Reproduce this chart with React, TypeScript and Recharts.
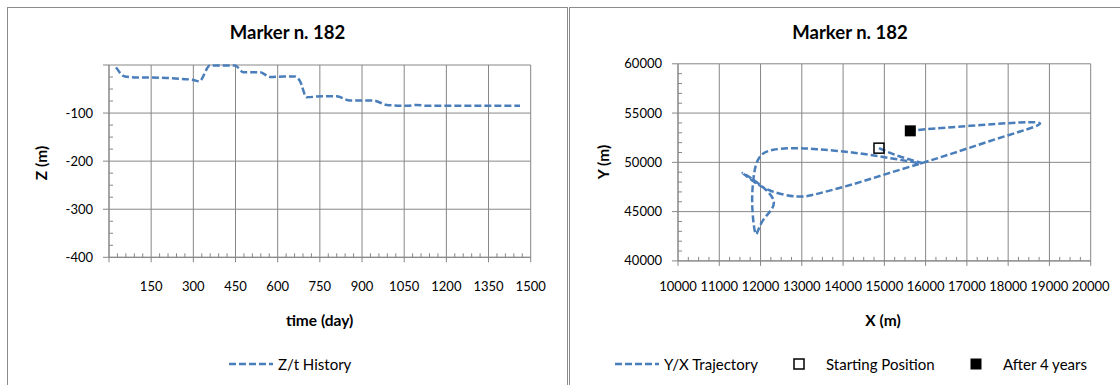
import React from 'react'
import { LineChart, ComposedChart, Line, Scatter, XAxis, YAxis, CartesianGrid } from 'recharts'

// Z/t history
const days = [25, 57, 100, 146, 205, 260, 300, 321, 359, 400, 448, 478, 537, 573, 620, 662, 679, 703, 760, 810, 857, 900, 940, 988, 1059, 1094, 1130, 1200, 1300, 1400, 1462]
const depth = [-5, -24, -26, -26, -27, -29, -31, -34, -1, -1, -1, -15, -15, -25, -24, -24, -33, -67, -65, -65, -74, -74, -74, -83, -85, -83, -85, -85, -85, -85, -85]
const dayTicks = [0, 150, 300, 450, 600, 750, 900, 1050, 1200, 1350, 1500]
const depthTicks = [-400, -300, -200, -100, 0]

// Y/X trajectory
const trajX = [14870, 15379, 15905, 15379, 14652, 14006, 13360, 12794, 12309, 12028, 11890, 11825, 11800, 11882, 12066, 12293, 11620, 11775, 12229, 12875, 13440, 14248, 15056, 15905, 16671, 17479, 18287, 18771, 18287, 17075, 16025, 15629]
const trajY = [51440, 50593, 49919, 50256, 50763, 51100, 51337, 51440, 51270, 50763, 49748, 48226, 45516, 42745, 44166, 46368, 48800, 48226, 47140, 46532, 46875, 47790, 48835, 49919, 50936, 52053, 53128, 53910, 54042, 53707, 53370, 53196]
const startPos = { x: 14870, y: 51440 }
const endPos = { x: 15629, y: 53196 }
const eastTicks = [10000, 11000, 12000, 13000, 14000, 15000, 16000, 17000, 18000, 19000, 20000]
const northTicks = [40000, 45000, 50000, 55000, 60000]

const GRID = '#878787'
const BLUE = '#4a7ebb'
const FONT = 'Lato, "Open Sans", sans-serif'
const TICK_SIZE = 13

const zData = days.map((d, i) => ({ day: d, z: depth[i] }))
const trajData = trajX.map((x, i) => ({ x, y: trajY[i] }))

const withMinor = (majors: number[], parts: number) => {
  const out: number[] = []
  for (let i = 0; i < majors.length - 1; i++) {
    const step = (majors[i + 1] - majors[i]) / parts
    for (let k = 0; k < parts; k++) out.push(majors[i] + k * step)
  }
  out.push(majors[majors.length - 1])
  return out
}

const bottomTick = (majors: number[], hide: number[]) => (props: any) => {
  const { x, y, payload } = props
  const v = payload.value
  const major = majors.includes(v)
  return (
    <g>
      <line x1={x} x2={x} y1={major ? y : y - 4} y2={major ? y + 5 : y} stroke={GRID} />
      {major && !hide.includes(v) && (
        <text x={x} y={290.5} textAnchor="middle" fontSize={TICK_SIZE} fontFamily={FONT} fill="#000">{v}</text>
      )}
    </g>
  )
}

const leftTick = (majors: number[], hide: number[]) => (props: any) => {
  const { x, y, payload } = props
  const v = payload.value
  const major = majors.includes(v)
  return (
    <g>
      <line x1={major ? x - 6 : x} x2={major ? x : x + 4} y1={y} y2={y} stroke={GRID} />
      {major && !hide.includes(v) && (
        <text x={x - 16} y={y + 4.5} textAnchor="end" fontSize={TICK_SIZE} fontFamily={FONT} fill="#000">{v}</text>
      )}
    </g>
  )
}

const abs = (left: number, top: number, extra: React.CSSProperties = {}): React.CSSProperties => ({
  position: 'absolute', left, top, transform: 'translate(-50%, -50%)', whiteSpace: 'nowrap', ...extra,
})

const DashIcon = () => (
  <svg width={44} height={6} style={{ display: 'block' }}>
    <line x1={0} x2={44} y1={3} y2={3} stroke={BLUE} strokeWidth={2.5} strokeDasharray="7 3" />
  </svg>
)

const App = () => {
  return (
    <div style={{ position: 'absolute', left: 0, top: 0, width: 1120, height: 385, overflow: 'hidden', background: '#fff', fontFamily: FONT, color: '#000' }}>
      <div style={{ position: 'absolute', left: 7, top: 7, width: 561, height: 420, border: '1px solid #8c8c8c', boxSizing: 'border-box' }} />
      <div style={{ position: 'absolute', left: 569, top: 7, width: 600, height: 420, border: '1px solid #8c8c8c', boxSizing: 'border-box' }} />

      <div style={{ position: 'absolute', left: 0, top: 0 }}>
        <LineChart width={568} height={385} data={zData} margin={{ top: 65, right: 37.3, bottom: 97.7, left: 0 }}>
          <CartesianGrid stroke={GRID} verticalValues={dayTicks} horizontalValues={depthTicks} />
          <XAxis type="number" dataKey="day" domain={[0, 1500]} ticks={withMinor(dayTicks, 5)} interval={0} height={30}
            tickSize={0} tickMargin={0} tickLine={false} axisLine={{ stroke: GRID }} tick={bottomTick(dayTicks, [0])} />
          <YAxis type="number" domain={[-400, 0]} ticks={withMinor(depthTicks, 4)} interval={0} width={109}
            tickSize={0} tickMargin={0} tickLine={false} axisLine={{ stroke: GRID }} tick={leftTick(depthTicks, [0])} />
          <Line dataKey="z" type="monotone" stroke={BLUE} strokeWidth={2.5} strokeDasharray="7 3" dot={false} isAnimationActive={false} />
        </LineChart>
      </div>

      <div style={{ position: 'absolute', left: 568, top: 0 }}>
        <ComposedChart width={552} height={385} data={trajData} margin={{ top: 63.8, right: 29.3, bottom: 94.1, left: 0 }}>
          <CartesianGrid stroke={GRID} verticalValues={eastTicks} horizontalValues={northTicks} />
          <XAxis type="number" dataKey="x" domain={[10000, 20000]} ticks={withMinor(eastTicks, 4)} interval={0} height={30}
            tickSize={0} tickMargin={0} tickLine={false} axisLine={{ stroke: GRID }} tick={bottomTick(eastTicks, [])} />
          <YAxis type="number" dataKey="y" domain={[40000, 60000]} ticks={withMinor(northTicks, 5)} interval={0} width={110}
            tickSize={0} tickMargin={0} tickLine={false} axisLine={{ stroke: GRID }} tick={leftTick(northTicks, [])} />
          <Line dataKey="y" type="natural" stroke={BLUE} strokeWidth={2.5} strokeDasharray="7 3" dot={false} isAnimationActive={false} />
          <Scatter data={[startPos]} dataKey="y" isAnimationActive={false}
            shape={(p: any) => <rect x={p.cx - 5} y={p.cy - 5} width={10} height={10} fill="none" stroke="#000" strokeWidth={1.5} />} />
          <Scatter data={[endPos]} dataKey="y" isAnimationActive={false}
            shape={(p: any) => <rect x={p.cx - 5.5} y={p.cy - 5.5} width={11} height={11} fill="#000" />} />
        </ComposedChart>
      </div>

      <div style={abs(287.5, 31.7, { fontSize: 18.5, fontWeight: 700 })}>Marker n. 182</div>
      <div style={abs(850, 31.7, { fontSize: 18.5, fontWeight: 700 })}>Marker n. 182</div>

      <div style={abs(41, 163, { fontSize: 15.5, fontWeight: 700, transform: 'translate(-50%, -50%) rotate(-90deg)' })}>Z (m)</div>
      <div style={abs(603, 162, { fontSize: 15.5, fontWeight: 700, transform: 'translate(-50%, -50%) rotate(-90deg)' })}>Y (m)</div>

      <div style={abs(319.6, 320, { fontSize: 15.5, fontWeight: 700 })}>time (day)</div>
      <div style={abs(883, 320, { fontSize: 15.5, fontWeight: 700 })}>X (m)</div>

      <div style={{ position: 'absolute', left: 229, top: 355, display: 'flex', alignItems: 'center', gap: 5, fontSize: 15 }}>
        <DashIcon /><span>Z/t History</span>
      </div>
      <div style={{ position: 'absolute', left: 615, top: 355, display: 'flex', alignItems: 'center', fontSize: 15 }}>
        <DashIcon /><span style={{ marginLeft: 5 }}>Y/X Trajectory</span>
      </div>
      <div style={{ position: 'absolute', left: 793, top: 355, display: 'flex', alignItems: 'center', fontSize: 15 }}>
        <svg width={12} height={12} style={{ display: 'block' }}>
          <rect x={1} y={1} width={10} height={10} fill="none" stroke="#000" strokeWidth={1.5} />
        </svg>
        <span style={{ marginLeft: 21 }}>Starting Position</span>
      </div>
      <div style={{ position: 'absolute', left: 970, top: 355, display: 'flex', alignItems: 'center', fontSize: 15 }}>
        <svg width={12} height={12} style={{ display: 'block' }}>
          <rect x={0.5} y={0.5} width={11} height={11} fill="#000" />
        </svg>
        <span style={{ marginLeft: 21 }}>After 4 years</span>
      </div>
    </div>
  )
}

export default App
